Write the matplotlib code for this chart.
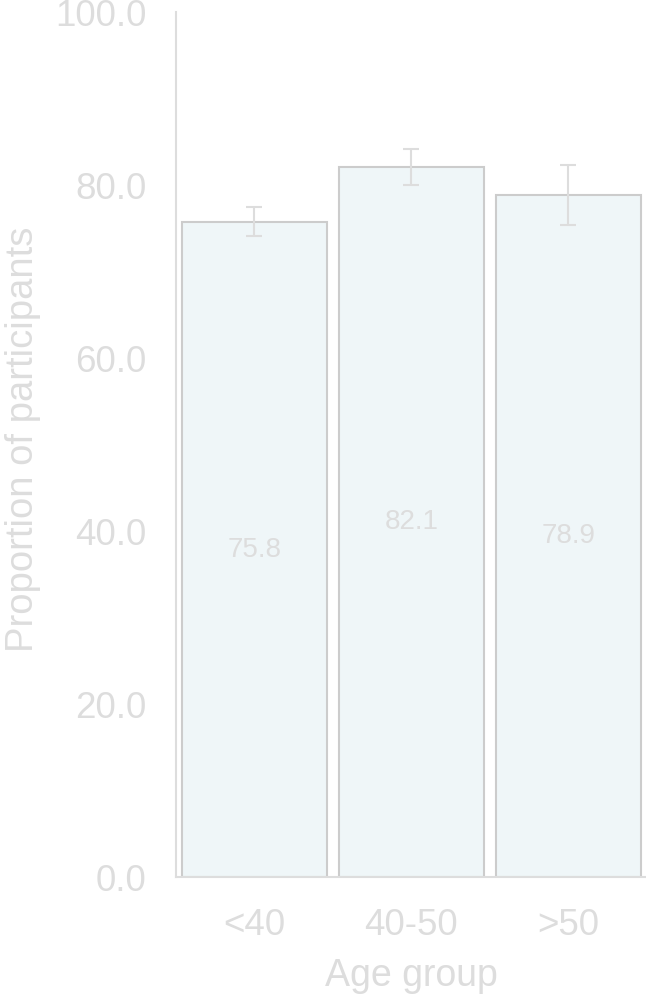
import numpy as np
import matplotlib
matplotlib.use('Agg')
import matplotlib.pyplot as plt

# data
groups = ['<40', '40-50', '>50']
proportions = [75.8, 82.1, 78.9]
errors = [1.7, 2.1, 3.5]
y_ticks = [0, 20, 40, 60, 80, 100]

plt.rcParams['font.family'] = ['Liberation Sans', 'DejaVu Sans']
text_col = '#dddddd'

fig = plt.figure(figsize=(6.46, 9.97), dpi=100)
ax = fig.add_axes([0.2724, 0.1199, 0.729, 0.8676])

x = np.arange(len(groups))
ax.bar(x, proportions, width=0.92, color='#eff6f8', edgecolor='#cccccc', linewidth=1.5)
ax.errorbar(x, proportions, yerr=errors, fmt='none', ecolor=text_col,
            elinewidth=1.5, capsize=6, capthick=1.5)

# value labels in the middle of each bar
for xi, val in zip(x, proportions):
    ax.text(xi, val / 2, f'{val:.1f}', ha='center', va='center',
            fontsize=20, color=text_col)

ax.set_xlim(-0.5, 2.5)
ax.set_ylim(0, 100)
ax.set_xticks(x)
ax.set_xticklabels(groups)
ax.set_yticks(y_ticks)
ax.set_yticklabels([f'{t:.1f}' for t in y_ticks])
ax.tick_params(length=0, labelsize=26.5, labelcolor=text_col)
ax.tick_params(axis='y', pad=21)
ax.tick_params(axis='x', pad=22)

ax.set_xlabel('Age group', fontsize=27, color=text_col, labelpad=11)
ax.set_ylabel('Proportion of participants', fontsize=27.5, color=text_col)
ax.yaxis.set_label_coords(-0.286, 0.506)

for side in ['top', 'right']:
    ax.spines[side].set_visible(False)
for side in ['left', 'bottom']:
    ax.spines[side].set_color(text_col)
    ax.spines[side].set_linewidth(1.5)

plt.savefig('out.png', dpi=100)
